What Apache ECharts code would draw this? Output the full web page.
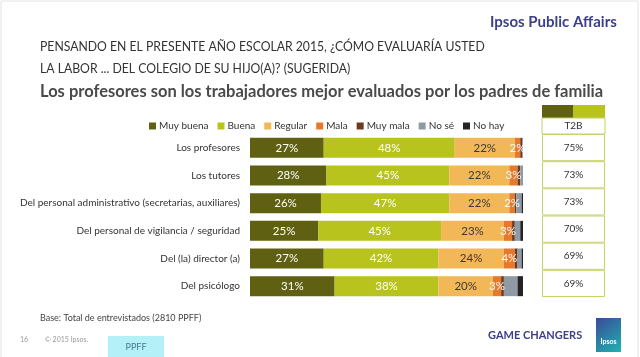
<!DOCTYPE html>
<html><head><meta charset="utf-8">
<script src="https://cdn.jsdelivr.net/npm/echarts@6/dist/echarts.min.js"></script>
<style>html,body{margin:0;padding:0;background:#fff}#c{width:640px;height:357px}</style>
</head><body><div id="c"></div>
<script>
const categories = ['Los profesores','Los tutores','Del personal administrativo (secretarias, auxiliares)','Del personal de vigilancia / seguridad','Del (la) director (a)','Del psicólogo'];
const seriesNames = ['Muy buena','Buena','Regular','Mala','Muy mala','No sé','No hay'];
const muyBuena = [27,28,26,25,27,31];
const buena    = [48,45,47,45,42,38];
const regular  = [22,22,22,23,24,20];
const mala     = [2,3,2,3,4,3];
const muyMala  = [0.7,1,0.5,1,1,1];
const noSe     = [0.3,1,2,2,1.5,5];
const noHay    = [0,0,0.5,1,0.5,2];
const t2b      = [75,73,73,70,69,69];

const FONT = 'Lato';
const colors = ['#606012','#b8c31d','#f2b757','#e6792b','#6c3a1c','#8f9aa5','#242424'];
const values = [muyBuena,buena,regular,mala,muyMala,noSe,noHay];
const labelColors = ['#fff','#fff','#3a3a3a','#fff',null,null,null];

const series = values.map((arr,i)=>({
  name: seriesNames[i], type:'bar', stack:'total', barWidth:20,
  xAxisIndex:0, yAxisIndex:0,
  itemStyle:{color:colors[i]},
  label: labelColors[i] ? {show:true, position:'inside', color:labelColors[i], fontFamily:FONT, fontSize:11.5,
    formatter:(p)=>Math.round(p.value)+'%'} : {show:false},
  data: arr
}));

series.push({
  name:'T2B', type:'bar', xAxisIndex:1, yAxisIndex:1, barWidth:'100%',
  itemStyle:{color:'#fff', borderColor:'#c6d26a', borderWidth:1},
  label:{show:true, position:'inside', color:'#333', fontFamily:FONT, fontSize:10,
    formatter:(p)=>t2b[p.dataIndex]+'%'},
  data: t2b.map(()=>1), silent:true
});

const chart = echarts.init(document.getElementById('c'), null, {renderer:'canvas'});
chart.setOption({
  animation:false,
  textStyle:{fontFamily:FONT},
  legend:{
    data: seriesNames, left:144, top:116, itemWidth:7, itemHeight:7, itemGap:9,
    icon:'rect', textStyle:{fontSize:10, color:'#333', fontFamily:FONT, padding:[0,0,0,-2]}
  },
  grid:[
    {left:250, right:117, top:134, bottom:57},
    {left:542, width:63, top:134, bottom:60}
  ],
  xAxis:[
    {type:'value', gridIndex:0, min:0, max:100, show:false},
    {type:'value', gridIndex:1, min:0, max:1, show:false}
  ],
  yAxis:[
    {type:'category', gridIndex:0, data:categories, inverse:true,
      axisLine:{show:false}, axisTick:{show:false},
      axisLabel:{color:'#333', fontSize:10, fontFamily:FONT, margin:10}},
    {type:'category', gridIndex:1, data:categories, inverse:true, show:false}
  ],
  series: series,
  graphic:[
    {type:'rect', shape:{x:1,y:1,width:637,height:360}, style:{fill:'none', stroke:'#e2e2e2', lineWidth:1}, silent:true},
    {type:'text', left:490, top:15, style:{text:'Ipsos Public Affairs', fill:'#3b3f8d', font:'bold 15px '+FONT}},
    {type:'text', x:40, y:36, scaleX:0.94, originX:0, style:{text:'PENSANDO EN EL PRESENTE AÑO ESCOLAR 2015, ¿CÓMO EVALUARÍA USTED\nLA LABOR ... DEL COLEGIO DE SU HIJO(A)? (SUGERIDA)', fill:'#333', font:'13px '+FONT, lineHeight:22}},
    {type:'text', left:40, top:83, style:{text:'Los profesores son los trabajadores mejor evaluados por los padres de familia', fill:'#4a4a4a', font:'bold 16.5px '+FONT}},
    {type:'rect', shape:{x:542,y:105,width:31,height:13}, style:{fill:'#606012'}},
    {type:'rect', shape:{x:573,y:105,width:32,height:13}, style:{fill:'#b8c31d'}},
    {type:'rect', shape:{x:542,y:118,width:63,height:16}, style:{fill:'#fff', stroke:'#c6d26a', lineWidth:1}},
    {type:'text', x:573.5, y:126, style:{text:'T2B', fill:'#333', font:'10px '+FONT, align:'center', verticalAlign:'middle'}},
    {type:'text', left:40, top:314, style:{text:'Base: Total de entrevistados (2810 PPFF)', fill:'#444', font:'9px '+FONT}},
    {type:'text', left:20, top:336, style:{text:'16', fill:'#999', font:'7px '+FONT}},
    {type:'text', left:45, top:336, style:{text:'© 2015 Ipsos.', fill:'#999', font:'7px '+FONT}},
    {type:'rect', shape:{x:108,y:336,width:56,height:21}, style:{fill:'#b3f0f7'}},
    {type:'text', x:136, y:347, style:{text:'PPFF', fill:'#4a7890', font:'9px '+FONT, align:'center', verticalAlign:'middle'}},
    {type:'text', left:488, top:330, style:{text:'GAME CHANGERS', fill:'#3b3f8d', font:'bold 11px '+FONT}},
    {type:'rect', shape:{x:596,y:318,width:25,height:34}, style:{fill:new echarts.graphic.LinearGradient(0,0,1,1,[{offset:0,color:'#3a4a9a'},{offset:1,color:'#1fb3b0'}])}},
    {type:'text', x:608.5, y:342, style:{text:'Ipsos', fill:'#fff', font:'bold 7px '+FONT, align:'center', verticalAlign:'middle'}}
  ]
});
</script></body></html>
